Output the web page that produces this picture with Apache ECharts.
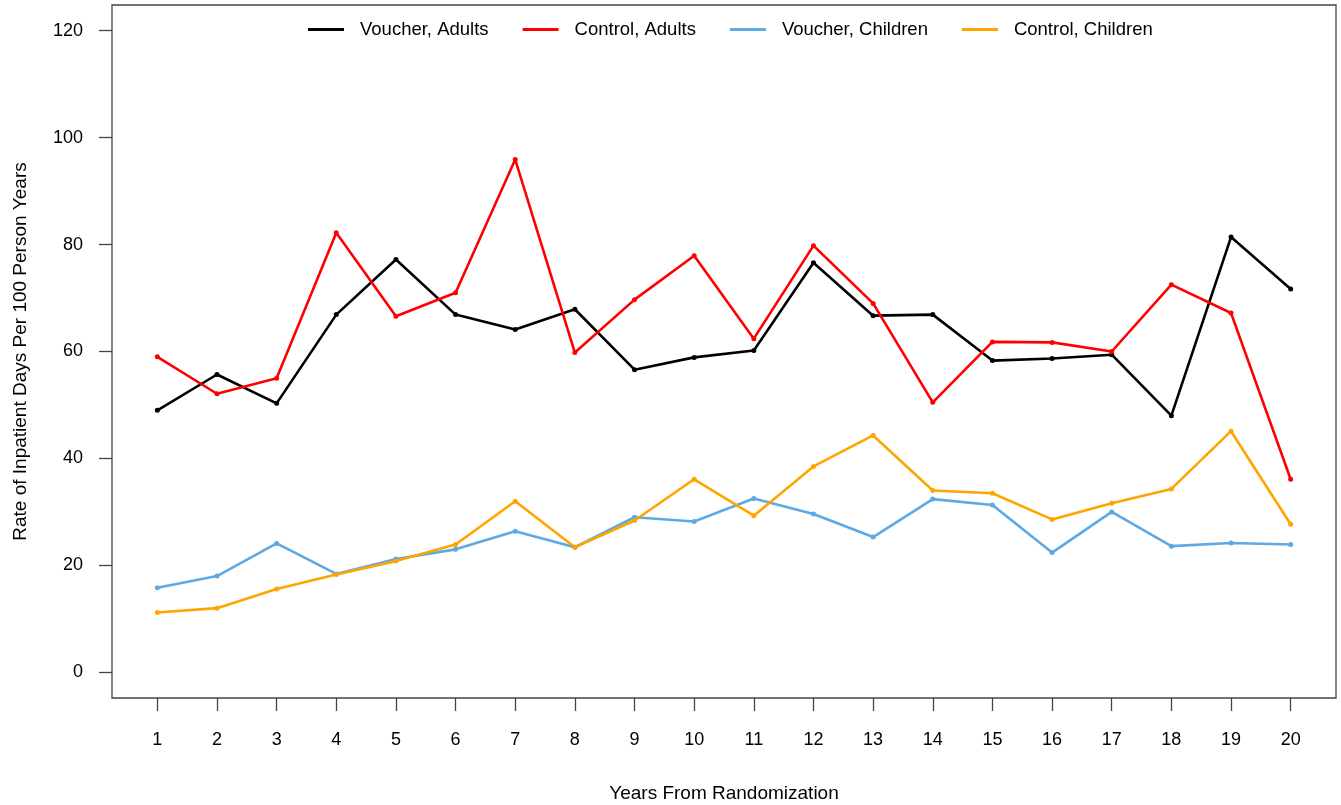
<!DOCTYPE html>
<html>
<head>
<meta charset="utf-8">
<script src="https://cdn.jsdelivr.net/npm/echarts@6/dist/echarts.min.js"></script>
<style>
  html, body { margin: 0; padding: 0; background: #fff; }
  #chart { width: 1341px; height: 805px; }
</style>
</head>
<body>
<div id="chart"></div>
<script>
// years since randomization
const years = [1, 2, 3, 4, 5, 6, 7, 8, 9, 10, 11, 12, 13, 14, 15, 16, 17, 18, 19, 20];

const voucherAdults = [49.0, 55.7, 50.3, 66.9, 77.2, 66.9, 64.1, 67.9, 56.6, 58.9,
                       60.2, 76.6, 66.7, 66.9, 58.3, 58.7, 59.4, 48.0, 81.4, 71.7];
const controlAdults = [59.0, 52.1, 55.0, 82.2, 66.6, 71.0, 95.9, 59.8, 69.7, 77.9,
                       62.4, 79.8, 69.0, 50.5, 61.8, 61.7, 60.0, 72.5, 67.2, 36.1];
const voucherChildren = [15.8, 18.0, 24.1, 18.4, 21.2, 23.0, 26.4, 23.4, 29.0, 28.2,
                         32.5, 29.6, 25.3, 32.4, 31.3, 22.4, 30.0, 23.6, 24.2, 23.9];
const controlChildren = [11.2, 12.0, 15.6, 18.3, 20.8, 23.9, 32.0, 23.4, 28.4, 36.1,
                         29.3, 38.5, 44.3, 34.0, 33.5, 28.6, 31.6, 34.3, 45.1, 27.7];

const yTicks = [0, 20, 40, 60, 80, 100, 120];

const seriesNames = ['Voucher, Adults', 'Control, Adults', 'Voucher, Children', 'Control, Children'];
const seriesColors = ['#000000', '#ff0000', '#5ca9e6', '#ffa500'];
const seriesData = [voucherAdults, controlAdults, voucherChildren, controlChildren];

const font = 'Liberation Sans, Arial, Helvetica, sans-serif';

const chart = echarts.init(document.getElementById('chart'));

const option = {
  animation: false,
  backgroundColor: '#fff',
  grid: {
    left: 112, right: 5, top: 5, bottom: 107,
    outerBoundsMode: 'none',
    containLabel: false,
    show: true, borderColor: '#444', borderWidth: 1.3, backgroundColor: 'transparent'
  },
  legend: {
    top: 15,
    left: 303,
    icon: 'rect',
    itemWidth: 36,
    itemHeight: 3,
    itemGap: 34,
    textStyle: { fontFamily: font, fontSize: 18.5, color: '#000', padding: [0, 0, 0, 11] },
    data: seriesNames
  },
  xAxis: {
    type: 'value',
    min: 0.24,
    max: 20.76,
    name: 'Years From Randomization',
    nameLocation: 'middle',
    nameGap: 86,
    nameTextStyle: { fontFamily: font, fontSize: 19, color: '#000' },
    axisLine: { show: false, onZero: false },
    axisTick: { show: true, length: 13, lineStyle: { color: '#444', width: 1.3 }, customValues: years },
    axisLabel: { fontFamily: font, fontSize: 18, color: '#000', margin: 33, customValues: years },
    splitLine: { show: false }
  },
  yAxis: {
    type: 'value',
    min: -4.8,
    max: 124.8,
    name: 'Rate of Inpatient Days Per 100 Person Years',
    nameLocation: 'middle',
    nameGap: 82,
    nameTextStyle: { fontFamily: font, fontSize: 19, color: '#000' },
    axisLine: { show: false, onZero: false },
    axisTick: { show: true, length: 13, lineStyle: { color: '#444', width: 1.3 }, customValues: yTicks },
    axisLabel: { fontFamily: font, fontSize: 18, color: '#000', margin: 29, customValues: yTicks },
    splitLine: { show: false }
  },
  series: seriesNames.map((name, i) => ({
    name: name,
    type: 'line',
    data: years.map((x, j) => [x, seriesData[i][j]]),
    symbol: 'circle',
    symbolSize: 5,
    lineStyle: { color: seriesColors[i], width: 2.6 },
    itemStyle: { color: seriesColors[i] },
    z: 2
  }))
};

chart.setOption(option);
</script>
</body>
</html>
